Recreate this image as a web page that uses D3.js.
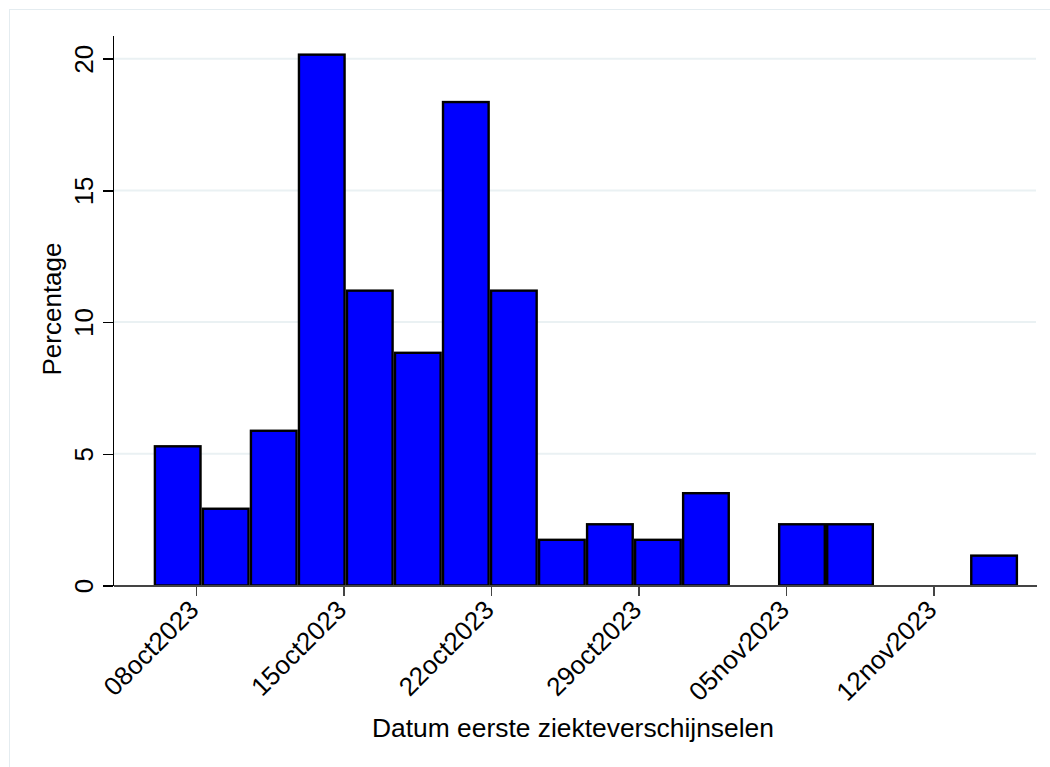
<!DOCTYPE html>
<html>
<head>
<meta charset="utf-8">
<script src="https://cdn.jsdelivr.net/npm/d3@7"></script>
<style>
  body { margin: 0; background: #fff; }
  text { font-family: "Liberation Sans", Arial, sans-serif; fill: #000; }
</style>
</head>
<body>
<svg id="chart"></svg>
<script>
// percentage per bin (18 equal bins)
var percentages = [5.33, 2.96, 5.92, 20.2, 11.24, 8.88, 18.4, 11.24, 1.78, 2.37, 1.78, 3.55, 0, 2.37, 2.37, 0, 0, 1.18];
var binRange = ["2023-10-06", "2023-11-16"];
var tickDates = ["2023-10-08", "2023-10-15", "2023-10-22", "2023-10-29", "2023-11-05", "2023-11-12"];
var tickLabels = ["08oct2023", "15oct2023", "22oct2023", "29oct2023", "05nov2023", "12nov2023"];
var yTicks = [0, 5, 10, 15, 20];
var xTitle = "Datum eerste ziekteverschijnselen";
var yTitle = "Percentage";

var width = 1050, height = 767;
var plot = {left: 113, right: 1036, top: 35, bottom: 585.5};

var parse = d3.utcParse("%Y-%m-%d");
var day = 864e5;

var svg = d3.select("#chart").attr("width", width).attr("height", height);

// light outer frame of the graph region
svg.append("rect")
    .attr("x", 9.5).attr("y", 9.5)
    .attr("width", 1080).attr("height", 800)
    .attr("fill", "none").attr("stroke", "#e4ecf0");

var binStart = parse(binRange[0]), binEnd = parse(binRange[1]);
var binW = (binEnd - binStart) / percentages.length;

var x = d3.scaleUtc()
    .domain([new Date(+binStart - 1.93 * day), new Date(+binEnd + 0.85 * day)])
    .range([plot.left, plot.right]);

var y = d3.scaleLinear()
    .domain([0, 20.9])
    .range([plot.bottom, plot.top]);

// gridlines
svg.append("g")
  .selectAll("line")
    .data(yTicks.filter(function(d) { return d > 0; }))
  .enter().append("line")
    .attr("x1", plot.left).attr("x2", plot.right)
    .attr("y1", function(d) { return y(d); })
    .attr("y2", function(d) { return y(d); })
    .attr("stroke", "#eaf1f3").attr("stroke-width", 2);

// bars
var bins = percentages.map(function(v, i) {
  return {x0: new Date(+binStart + i * binW), x1: new Date(+binStart + (i + 1) * binW), v: v};
});

svg.append("g")
  .selectAll("rect")
    .data(bins.filter(function(d) { return d.v > 0; }))
  .enter().append("rect")
    .attr("x", function(d) { return x(d.x0) + 1.2; })
    .attr("width", function(d) { return x(d.x1) - x(d.x0) - 2.4; })
    .attr("y", function(d) { return y(d.v) + 1.2; })
    .attr("height", function(d) { return y(0) - y(d.v) - 1.2; })
    .attr("fill", "#0000ff")
    .attr("stroke", "#000").attr("stroke-width", 2.4);

// x axis
var xAxis = svg.append("g")
    .attr("transform", "translate(0," + plot.bottom + ")")
    .call(d3.axisBottom(x)
      .tickValues(tickDates.map(parse))
      .tickFormat(function(d, i) { return tickLabels[i]; })
      .tickSize(10).tickSizeOuter(0));

xAxis.select(".domain").attr("stroke", "#444").attr("stroke-width", 1.5);
xAxis.selectAll(".tick line").attr("stroke", "#444").attr("stroke-width", 1.5);
xAxis.selectAll(".tick text")
    .attr("y", null).attr("dy", null)
    .attr("text-anchor", "end")
    .attr("transform", "translate(4,26) rotate(-45)")
    .style("font-size", "26px");

// y axis
var yAxis = svg.append("g")
    .attr("transform", "translate(" + plot.left + ",0)")
    .call(d3.axisLeft(y).tickValues(yTicks).tickSize(10).tickSizeOuter(0));

yAxis.select(".domain").attr("stroke", "#000").attr("stroke-width", 1.5);
yAxis.selectAll(".tick line").attr("stroke", "#000").attr("stroke-width", 1.5);
yAxis.selectAll(".tick text")
    .attr("x", null).attr("dy", null)
    .attr("text-anchor", "middle")
    .attr("transform", "translate(-20,0) rotate(-90)")
    .style("font-size", "26px");

svg.selectAll(".domain, .tick line").attr("shape-rendering", "crispEdges");

// titles
svg.append("text")
    .attr("x", 573).attr("y", 737)
    .attr("text-anchor", "middle")
    .style("font-size", "26.4px")
    .text(xTitle);

svg.append("text")
    .attr("transform", "translate(61,309) rotate(-90)")
    .attr("text-anchor", "middle")
    .style("font-size", "26px")
    .text(yTitle);
</script>
</body>
</html>
